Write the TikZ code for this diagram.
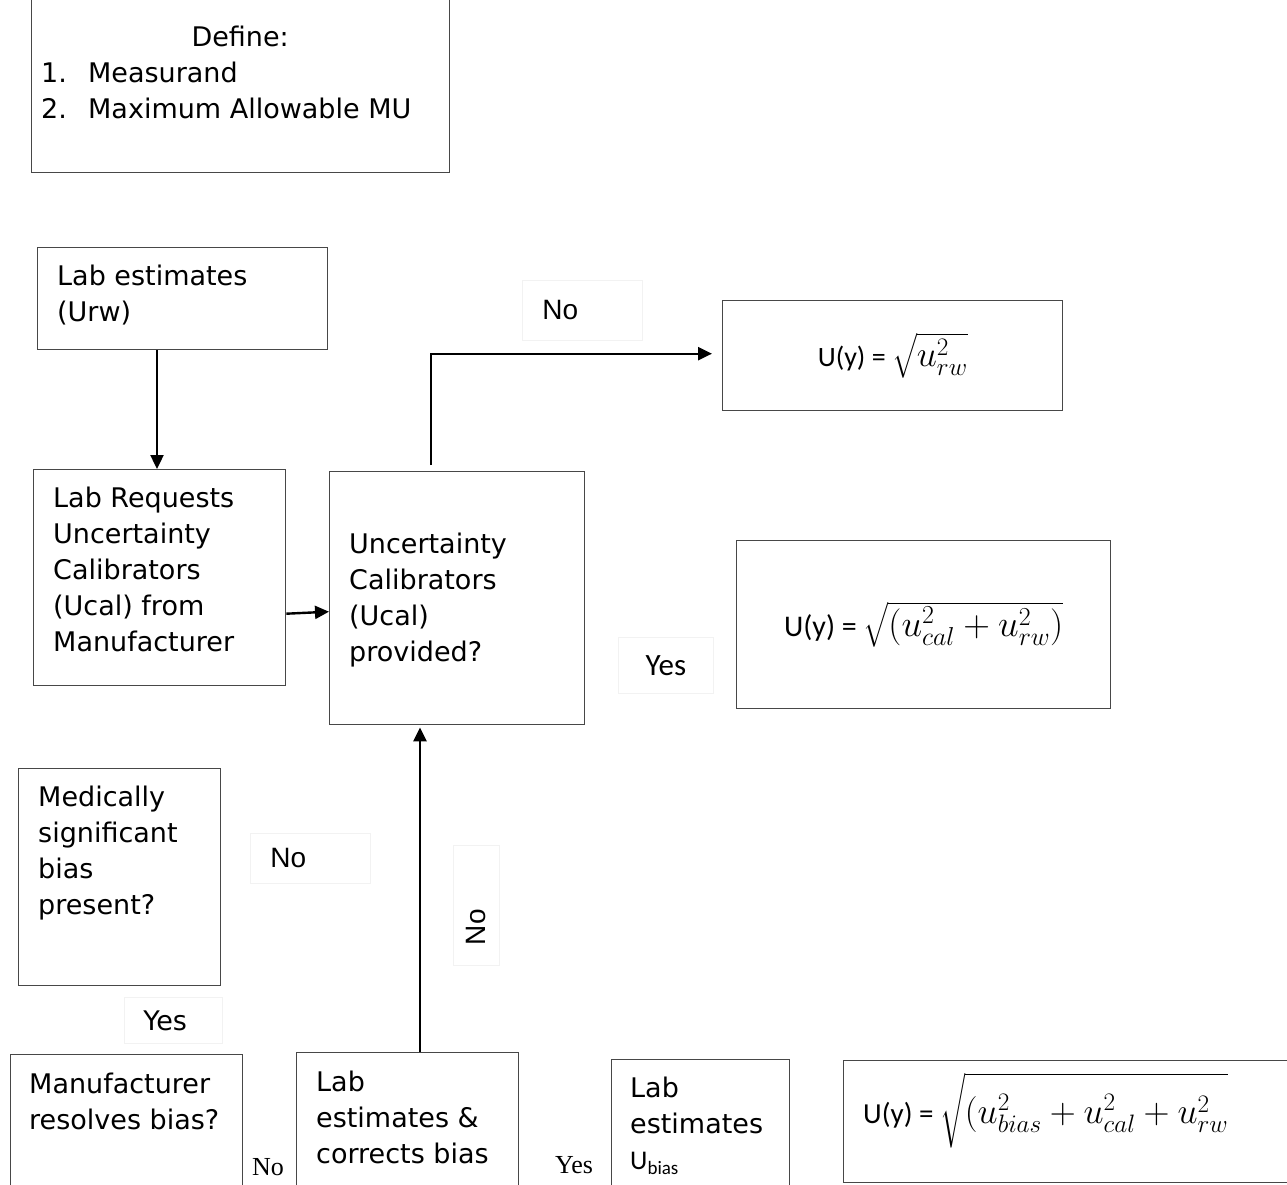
\RequirePackage{fix-cm}
\documentclass[tikz,border=0pt]{standalone}
\usepackage{amsmath}
\usepackage{fontspec}
\newfontfamily\bodyfont{DejaVu Sans}
\newfontfamily\arialfont{Liberation Sans}
\newfontfamily\timesfont{Liberation Serif}
\newfontfamily\califont{Carlito}
\newcommand{\mathsz}[1]{\fontsize{#1}{#1}\selectfont}
\usepackage{tikz}
\usetikzlibrary{arrows.meta,positioning,calc}

\begin{document}
\begin{tikzpicture}[x=1pt,y=-1pt,>={Triangle[length=14pt,width=13pt]},
  box/.style={draw=black!72, line width=1.4pt, inner sep=0pt, anchor=north west},
  boxtext/.style={anchor=north west, inner sep=0pt, align=left, font=\bodyfont\fontsize{27}{36}\selectfont},
  tag/.style={draw=black!5, line width=0.8pt, inner ysep=0pt, anchor=north west},
  flow/.style={->, line width=2.4pt}]

\useasboundingbox (0,0) rectangle (1287,1185);

% definitions
\node[box, minimum width=418pt, minimum height=180pt] (define) at (31,-8) {};
\node[boxtext] (define-text) at (41,25.5) {\makebox[398pt]{Define:}\\\makebox[47pt][l]{1.}Measurand\\\makebox[47pt][l]{2.}Maximum Allowable MU};

% left column
\node[box, minimum width=290pt, minimum height=102pt] (urw) at (37,247) {};
\node[boxtext] (urw-text) at (57,264.5) {Lab estimates\\(Urw)};

\node[box, minimum width=252pt, minimum height=216pt] (request) at (33,469) {};
\node[boxtext] (request-text) at (53,486.5) {Lab Requests\\Uncertainty\\Calibrators\\(Ucal) from\\Manufacturer};

\node[box, minimum width=255pt, minimum height=253pt] (ucal) at (329,471) {};
\node[boxtext] (ucal-text) at (349,532.5) {Uncertainty\\Calibrators\\(Ucal)\\provided?};

\node[box, minimum width=202pt, minimum height=217pt] (medical) at (18,768) {};
\node[boxtext] (medical-text) at (38,785.5) {Medically\\significant\\bias\\present?};

% bottom row
\node[box, minimum width=232pt, minimum height=150pt] (resolve) at (10,1054) {};
\node[boxtext] (resolve-text) at (29,1072.5) {Manufacturer\\resolves bias?};

\node[box, minimum width=222pt, minimum height=150pt] (correct) at (296,1052) {};
\node[boxtext] (correct-text) at (316,1070.5) {Lab\\estimates \&\\corrects bias};

\node[box, minimum width=178pt, minimum height=150pt] (ubias) at (611,1059) {};
\node[boxtext] (ubias-text) at (630,1076.5) {Lab\\estimates\\{\califont U\raisebox{-5pt}{\fontsize{19}{19}\selectfont bias}}};

% formulas
\node[box, minimum width=340pt, minimum height=110pt] (rw) at (722,300) {\califont\fontsize{28}{32}\selectfont U(y) = {\mathsz{36}$\sqrt{u^2_{rw}}$}};
\node[box, minimum width=374pt, minimum height=168pt] (calrw) at (736,540) {\califont\fontsize{30}{34}\selectfont U(y) = {\mathsz{37}$\sqrt{(u^2_{cal}+u^2_{rw})}$}};
\node[box, minimum width=460pt, minimum height=122pt] (full) at (843,1060) {};
\node[anchor=west, inner sep=0pt, font=\califont\fontsize{29}{30}\selectfont] (full-text) at ([xshift=20pt,yshift=11pt]full.west) {U(y) = {\mathsz{36}$\sqrt{\rule[-20pt]{0pt}{62pt}(u^2_{bias}+u^2_{cal}+u^2_{rw}}$}};

% answers
\node[tag, minimum width=120pt, minimum height=60pt, text width=80pt, inner xsep=20pt, align=left, font=\arialfont\fontsize{28}{32}\selectfont] (no-top) at (522,280) {No};
\node[tag, minimum width=120pt, minimum height=50pt, text width=80pt, inner xsep=20pt, align=left, font=\arialfont\fontsize{28}{32}\selectfont] (no-left) at (250,833) {No};
\node[tag, minimum width=95pt, minimum height=56pt, font=\califont\fontsize{31}{34}\selectfont] (yes-right) at (618,637) {Yes};
\node[tag, anchor=center, rotate=90, minimum height=46pt, text width=80pt, inner xsep=20pt, align=left, font=\arialfont\fontsize{28}{32}\selectfont] (no-up) at (476,905) {No};
\node[tag, minimum width=98pt, minimum height=46pt, text width=60pt, inner xsep=19pt, align=left, font=\bodyfont\fontsize{27}{32}\selectfont] (yes-left) at (124,997) {Yes};
\node[anchor=base west, inner sep=0pt, font=\timesfont\fontsize{26}{30}\selectfont] (no-low) at (252,1175) {No};
\node[anchor=base west, inner sep=0pt, font=\timesfont\fontsize{26}{30}\selectfont] (yes-low) at (555,1173) {Yes};

% connectors
\draw[flow] ([xshift=120pt]urw.south west) -- ([xshift=124pt]request.north west);
\draw[flow] ([yshift=-36pt]request.east) -- ([yshift=-13.5pt]ucal.west);
\draw[flow] ([xshift=102pt,yshift=6pt]ucal.north west) |- ([xshift=-10pt,yshift=2pt]rw.west);
\draw[flow] ([xshift=124pt]correct.north west) -- ([xshift=91pt,yshift=-2pt]ucal.south west);

\end{tikzpicture}
\end{document}
